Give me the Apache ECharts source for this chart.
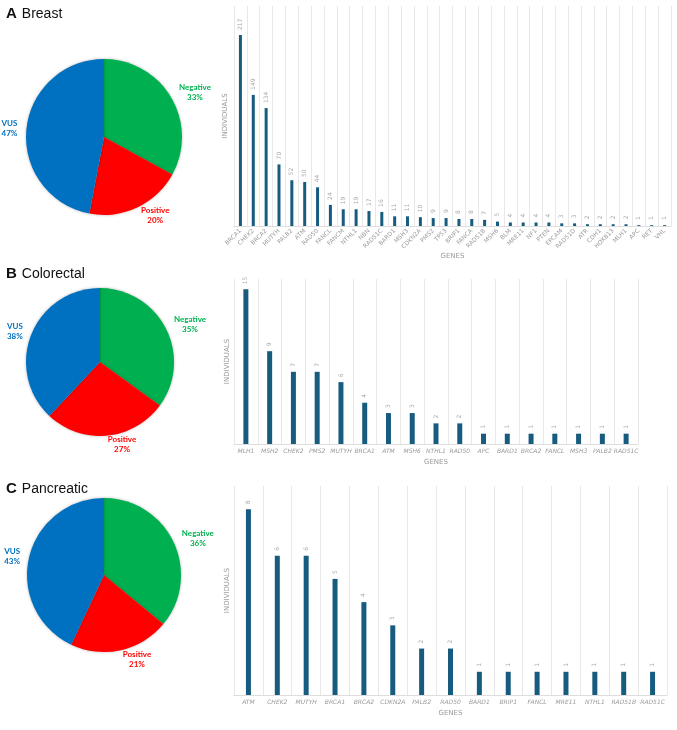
<!DOCTYPE html>
<html>
<head>
<meta charset="utf-8">
<script src="https://cdn.jsdelivr.net/npm/echarts@6/dist/echarts.min.js"></script>
<style>
  html, body { margin: 0; padding: 0; background: #fff; }
  #main { width: 677px; height: 730px; }
</style>
</head>
<body>
<div id="main"></div>
<script>
// pie shares (%)
const pieNames = ['Negative', 'Positive', 'VUS']
const breastPie = [33, 20, 47]
const colorectalPie = [35, 27, 38]
const pancreaticPie = [36, 21, 43]

// individuals per gene
const breastGenes = ['BRCA1', 'CHEK2', 'BRCA2', 'MUTYH', 'PALB2', 'ATM', 'RAD50', 'FANCL', 'FANCM', 'NTHL1',
  'NBN', 'RAD51C', 'BARD1', 'MSH3', 'CDKN2A', 'PMS2', 'TP53', 'BRIP1', 'FANCA', 'RAD51B', 'MSH6', 'BLM',
  'MRE11', 'NF1', 'PTEN', 'EPCAM', 'RAD51D', 'ATR', 'CDH1', 'HOXB13', 'MLH1', 'APC', 'RET', 'VHL']
const breastCounts = [217, 149, 134, 70, 52, 50, 44, 24, 19, 19, 17, 16, 11, 11, 10, 9, 9, 8, 8, 7, 5, 4,
  4, 4, 4, 3, 3, 2, 2, 2, 2, 1, 1, 1]

const colorectalGenes = ['MLH1', 'MSH2', 'CHEK2', 'PMS2', 'MUTYH', 'BRCA1', 'ATM', 'MSH6', 'NTHL1', 'RAD50',
  'APC', 'BARD1', 'BRCA2', 'FANCL', 'MSH3', 'PALB2', 'RAD51C']
const colorectalCounts = [15, 9, 7, 7, 6, 4, 3, 3, 2, 2, 1, 1, 1, 1, 1, 1, 1]

const pancreaticGenes = ['ATM', 'CHEK2', 'MUTYH', 'BRCA1', 'BRCA2', 'CDKN2A', 'PALB2', 'RAD50', 'BARD1',
  'BRIP1', 'FANCL', 'MRE11', 'NTHL1', 'RAD51B', 'RAD51C']
const pancreaticCounts = [8, 6, 6, 5, 4, 3, 2, 2, 1, 1, 1, 1, 1, 1, 1]

const pieColors = ['#00b050', '#ff0000', '#0070c0']
const barColor = '#175b7f'
const gray = '#9a9a9a'

function pieSeries(values, center, radius) {
  return {
    type: 'pie',
    center: center,
    radius: radius,
    startAngle: 90,
    clockwise: true,
    silent: true,
    avoidLabelOverlap: false,
    itemStyle: { shadowBlur: 3, shadowColor: 'rgba(0,0,0,0.3)' },
    label: {
      position: 'outside',
      overflow: 'none',
      distanceToLabelLine: 0,
      formatter: '{t|{b}}\n{t|{c}%}',
      rich: {
        t: { align: 'center', fontFamily: 'Lato', fontWeight: 'bold', fontSize: 8, lineHeight: 10 }
      }
    },
    labelLine: { show: false, length: 9, length2: 0 },
    data: values.map((v, i) => ({
      name: pieNames[i],
      value: v,
      itemStyle: { color: pieColors[i] },
      label: { color: pieColors[i] }
    }))
  }
}

function xAxisFor(idx, genes, italic, rotate, nameGap) {
  return {
    type: 'category',
    gridIndex: idx,
    data: genes,
    name: 'GENES',
    nameLocation: 'middle',
    nameGap: nameGap,
    nameTextStyle: { color: gray, fontSize: 7, fontFamily: 'DejaVu Sans' },
    axisLine: { lineStyle: { color: '#dddddd' } },
    axisTick: { show: false },
    axisLabel: {
      interval: 0,
      rotate: rotate,
      margin: 4,
      color: gray,
      fontSize: 6,
      fontStyle: italic ? 'italic' : 'normal',
      fontFamily: 'DejaVu Sans'
    },
    splitLine: { show: true, interval: 0, lineStyle: { color: '#e8e8e8' } }
  }
}

function yAxisFor(idx, max, nameGap) {
  return {
    type: 'value',
    gridIndex: idx,
    min: 0,
    max: max,
    name: 'INDIVIDUALS',
    nameLocation: 'middle',
    nameGap: nameGap,
    nameTextStyle: { color: gray, fontSize: 7, fontFamily: 'DejaVu Sans' },
    axisLine: { show: false },
    axisTick: { show: false },
    axisLabel: { show: false },
    splitLine: { show: false }
  }
}

function barSeries(idx, values, width) {
  return {
    type: 'bar',
    xAxisIndex: idx,
    yAxisIndex: idx,
    data: values,
    barWidth: width,
    itemStyle: { color: barColor },
    label: {
      show: true,
      position: 'top',
      rotate: 90,
      align: 'left',
      verticalAlign: 'middle',
      distance: 5,
      color: '#aaaaaa',
      fontSize: 6,
      fontFamily: 'DejaVu Sans'
    }
  }
}

function panelTitle(letter, text, top) {
  return {
    text: '{l|' + letter + '} {n|' + text + '}',
    left: 6,
    top: top,
    padding: 0,
    textStyle: {
      fontWeight: 'normal',
      rich: {
        l: { fontFamily: 'Liberation Sans', fontWeight: 'bold', fontSize: 15, color: '#111' },
        n: { fontFamily: 'Liberation Sans', fontWeight: 'normal', fontSize: 14, color: '#111' }
      }
    }
  }
}

const chart = echarts.init(document.getElementById('main'))
chart.setOption({
  animation: false,
  title: [
    panelTitle('A', 'Breast', 5),
    panelTitle('B', 'Colorectal', 265),
    panelTitle('C', 'Pancreatic', 480)
  ],
  grid: [
    { left: 234, right: 6, top: 6, bottom: 504 },
    { left: 234, right: 39, top: 279, bottom: 286 },
    { left: 234, right: 10, top: 486, bottom: 35 }
  ],
  xAxis: [
    xAxisFor(0, breastGenes, false, 45, 23),
    xAxisFor(1, colorectalGenes, true, 0, 15),
    xAxisFor(2, pancreaticGenes, true, 0, 15)
  ],
  yAxis: [
    yAxisFor(0, 250, 5),
    yAxisFor(1, 16, 3),
    yAxisFor(2, 9, 3)
  ],
  series: [
    barSeries(0, breastCounts, 3),
    barSeries(1, colorectalCounts, 5),
    barSeries(2, pancreaticCounts, 5),
    pieSeries(breastPie, [104, 137], 78),
    pieSeries(colorectalPie, [100, 362], 74),
    pieSeries(pancreaticPie, [104, 575], 77)
  ]
})
</script>
</body>
</html>
